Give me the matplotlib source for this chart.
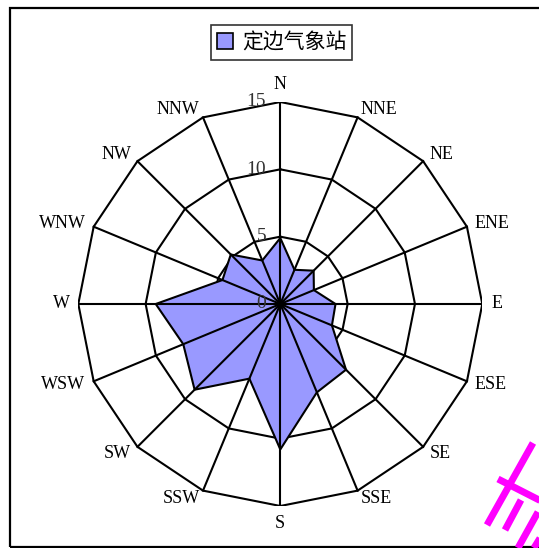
import numpy as np
import matplotlib.pyplot as plt
from matplotlib.lines import Line2D
from matplotlib.patches import Rectangle, Patch

directions = ['N', 'NNE', 'NE', 'ENE', 'E', 'ESE', 'SE', 'SSE',
              'S', 'SSW', 'SW', 'WSW', 'W', 'WNW', 'NW', 'NNW']
freq = [4.9, 2.75, 3.5, 2.7, 4.1, 4.15, 6.9, 7.1,
        10.8, 6.0, 9.0, 7.8, 9.25, 4.65, 5.2, 3.5]
rings = [5, 10, 15]
ring_labels = ['0', '5', '10', '15']
series_name = '定边气象站'

W, H = 539, 548
fig = plt.figure(figsize=(W / 100, H / 100), dpi=100)

# chart area frame
fig.add_artist(Rectangle((9.5 / W, 1 - 546.5 / H), 560 / W, 539 / H,
                         transform=fig.transFigure, fill=False,
                         edgecolor='black', lw=1.6))

cx, cy, R = 280.3, 304, 202
ax = fig.add_axes([(cx - R) / W, (H - cy - R) / H, 2 * R / W, 2 * R / H])
ax.set_xlim(-15, 15)
ax.set_ylim(-15, 15)
ax.axis('off')

theta = np.deg2rad(np.arange(16) * 22.5)
sx, sy = np.sin(theta), np.cos(theta)

# polygon grid
for r in rings:
    ax.plot(np.append(r * sx, r * sx[0]), np.append(r * sy, r * sy[0]),
            color='black', lw=1.5, zorder=1)

# data polygon
f = np.array(freq)
ax.fill(f * sx, f * sy, facecolor='#9999ff', edgecolor='black', lw=1.5, zorder=2)

# spokes
for i in range(16):
    ax.plot([0, 15 * sx[i]], [0, 15 * sy[i]], color='black', lw=1.5, zorder=3)

# ring value labels
for v, lab in zip([0] + rings, ring_labels):
    ax.text(-1.05, v, lab, ha='right', va='center', fontsize=14,
            family='Liberation Serif', color='#333333', zorder=4)

# direction labels
for i, d in enumerate(directions):
    x, y = 15.65 * sx[i], 15.65 * sy[i]
    if abs(sx[i]) < 0.1:
        ha = 'center'
        va = 'bottom' if sy[i] > 0 else 'top'
    else:
        ha = 'left' if sx[i] > 0 else 'right'
        va = 'center'
    ax.text(x, y, d, ha=ha, va=va, fontsize=13, family='Liberation Serif',
            clip_on=False)

leg = fig.legend(handles=[Patch(facecolor='#9999ff', edgecolor='black', lw=1.2,
                                 label=series_name)],
                 loc='center', bbox_to_anchor=(281.5 / W, 1 - 42.5 / H),
                 prop={'family': 'Noto Sans CJK SC', 'size': 15},
                 frameon=True, fancybox=False, edgecolor='black',
                 handlelength=0.8, handleheight=0.8, handletextpad=0.4,
                 borderpad=0.3, borderaxespad=0)
leg.get_frame().set_linewidth(1.2)

# magenta strokes in the bottom-right corner
strokes = [((533, 443), (487, 525)), ((498, 479), (545, 503)),
           ((521, 500), (505, 530)), ((538, 512), (518, 548)),
           ((545, 530), (534, 548))]
for (x0, y0), (x1, y1) in strokes:
    fig.add_artist(Line2D([x0 / W, x1 / W], [1 - y0 / H, 1 - y1 / H],
                          transform=fig.transFigure, color='#ff00ff',
                          lw=5, solid_capstyle='butt'))

fig.savefig('out.png', dpi=100, facecolor='white')
